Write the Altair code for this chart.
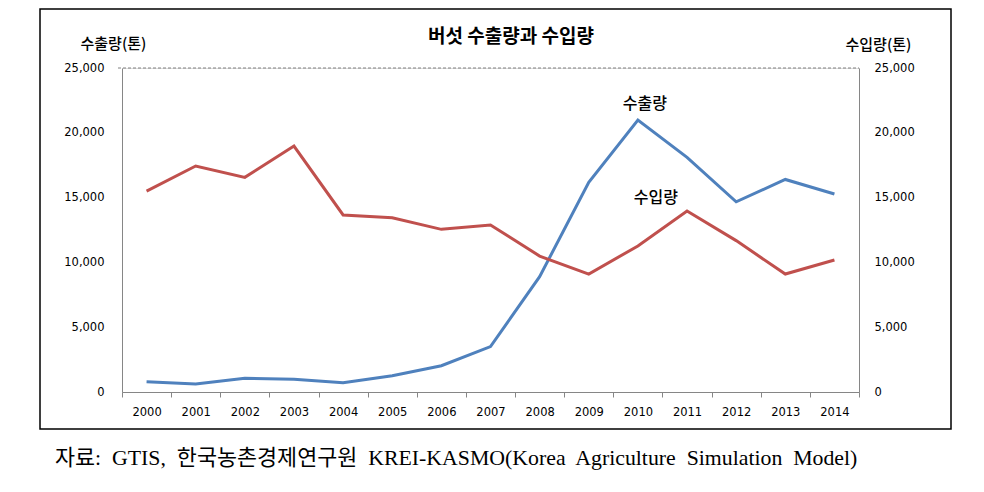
import altair as alt
import pandas as pd

years = [str(y) for y in range(2000, 2015)]
exports = [800, 620, 1060, 980, 720, 1260, 2030, 3500, 8900, 16180, 20990, 18100, 14680, 16400, 15280]
imports = [15500, 17440, 16560, 18980, 13660, 13450, 12550, 12890, 10490, 9100, 11270, 13970, 11680, 9100, 10190]
series_names = ["수출량", "수입량"]
series_colors = ["#4F81BD", "#C0504D"]
y_ticks = [0, 5000, 10000, 15000, 20000, 25000]

title_text = "버섯 수출량과 수입량"
left_title = "수출량(톤)"
right_title = "수입량(톤)"
footer_text = "자료:\u00a0 GTIS,\u00a0 한국농촌경제연구원\u00a0 KREI-KASMO(Korea\u00a0 Agriculture\u00a0 Simulation\u00a0 Model)"

rows = []
for yr, e, i in zip(years, exports, imports):
    rows.append({"year": yr, "value": e, "series": series_names[0]})
    rows.append({"year": yr, "value": i, "series": series_names[1]})
df = pd.DataFrame(rows)

W, H = 737, 324
GRAY = "#868686"
LABEL_FONT = "DejaVu Sans"
KFONT = "Noto Sans CJK KR"

xscale = alt.Scale(type="band", domain=years, paddingInner=0, paddingOuter=0)
yscale = alt.Scale(domain=[0, 25000], nice=False, zero=True)
cscale = alt.Scale(domain=series_names, range=series_colors)

x_axis = alt.Axis(orient="bottom", title=None, labelAngle=0, domainColor=GRAY,
                  tickColor=GRAY, tickSize=5, tickBand="extent", labelPadding=9,
                  labelFont=LABEL_FONT, labelFontSize=11.5, labelColor="#000")


def xenc():
    return alt.X("year:O", scale=xscale, bandPosition=0.5, axis=x_axis)


lines = alt.Chart(df).mark_line(strokeWidth=3).encode(
    x=xenc(),
    y=alt.Y("value:Q", scale=yscale,
            axis=alt.Axis(orient="left", values=y_ticks, format=",d", ticks=False, grid=False,
                          domainColor=GRAY, labelFont=LABEL_FONT, labelFontSize=11.5,
                          labelColor="#000", labelPadding=18,
                          title=left_title, titleAngle=0, titleX=-42, titleY=-25,
                          titleAlign="left", titleBaseline="middle", titleFont=KFONT,
                          titleFontSize=15, titleFontWeight=500, titleColor="#000")),
    color=alt.Color("series:N", scale=cscale, legend=None),
    detail="series:N",
)

right_axis = alt.Chart(df).mark_line(opacity=0).encode(
    x=xenc(),
    y=alt.Y("value:Q", scale=yscale,
            axis=alt.Axis(orient="right", values=y_ticks, format=",d", ticks=False, grid=False,
                          domainColor=GRAY, labelFont=LABEL_FONT, labelFontSize=11.5,
                          labelColor="#000", labelPadding=15,
                          title=right_title, titleAngle=0, titleX=-14, titleY=-24,
                          titleAlign="left", titleBaseline="middle", titleFont=KFONT,
                          titleFontSize=15, titleFontWeight=500, titleColor="#000")),
    detail="series:N",
)

top_rule = alt.Chart(alt.Data(values=[{"v": 25000}])).mark_rule(
    strokeDash=[3, 2], color="#808080", strokeWidth=1
).encode(y=alt.Y("v:Q", scale=yscale, axis=None), x=alt.value(-4), x2=alt.value(W))

border = alt.Chart(alt.Data(values=[{"b": 1}])).mark_rect(
    filled=False, stroke="#000", strokeWidth=1.5
).encode(x=alt.value(-82), x2=alt.value(829), y=alt.value(-59), y2=alt.value(361))

title = alt.Chart(alt.Data(values=[{"t": title_text}])).mark_text(
    font=KFONT, fontSize=19, fontWeight="bold", align="center", baseline="middle", color="#000"
).encode(text="t:N", x=alt.value(389), y=alt.value(-31))

ann1 = alt.Chart(alt.Data(values=[{"year": "2010", "label": series_names[0]}])).mark_text(
    font=KFONT, fontSize=16, fontWeight=500, baseline="middle", dx=7, color="#000"
).encode(x=xenc(), y=alt.value(36), text="label:N")
ann2 = alt.Chart(alt.Data(values=[{"year": "2010", "label": series_names[1]}])).mark_text(
    font=KFONT, fontSize=16, fontWeight=500, baseline="middle", dx=18, color="#000"
).encode(x=xenc(), y=alt.value(130), text="label:N")

footer = alt.Chart(alt.Data(values=[{"t": footer_text}])).mark_text(
    font="Liberation Serif, Noto Sans CJK KR", fontSize=21.8, align="left", baseline="middle", color="#000"
).encode(text="t:N", x=alt.value(-67), y=alt.value(390))

chart = alt.layer(border, top_rule, lines, right_axis, title, ann1, ann2, footer).resolve_axis(
    y="independent"
).properties(
    width=W, height=H,
    padding={"left": 114, "top": 60, "right": 117, "bottom": 80},
    autosize=alt.AutoSizeParams(type="none"),
).configure_view(stroke=None).configure(background="white")

chart.save("out.html", embed_options={"renderer": "svg", "actions": False})
